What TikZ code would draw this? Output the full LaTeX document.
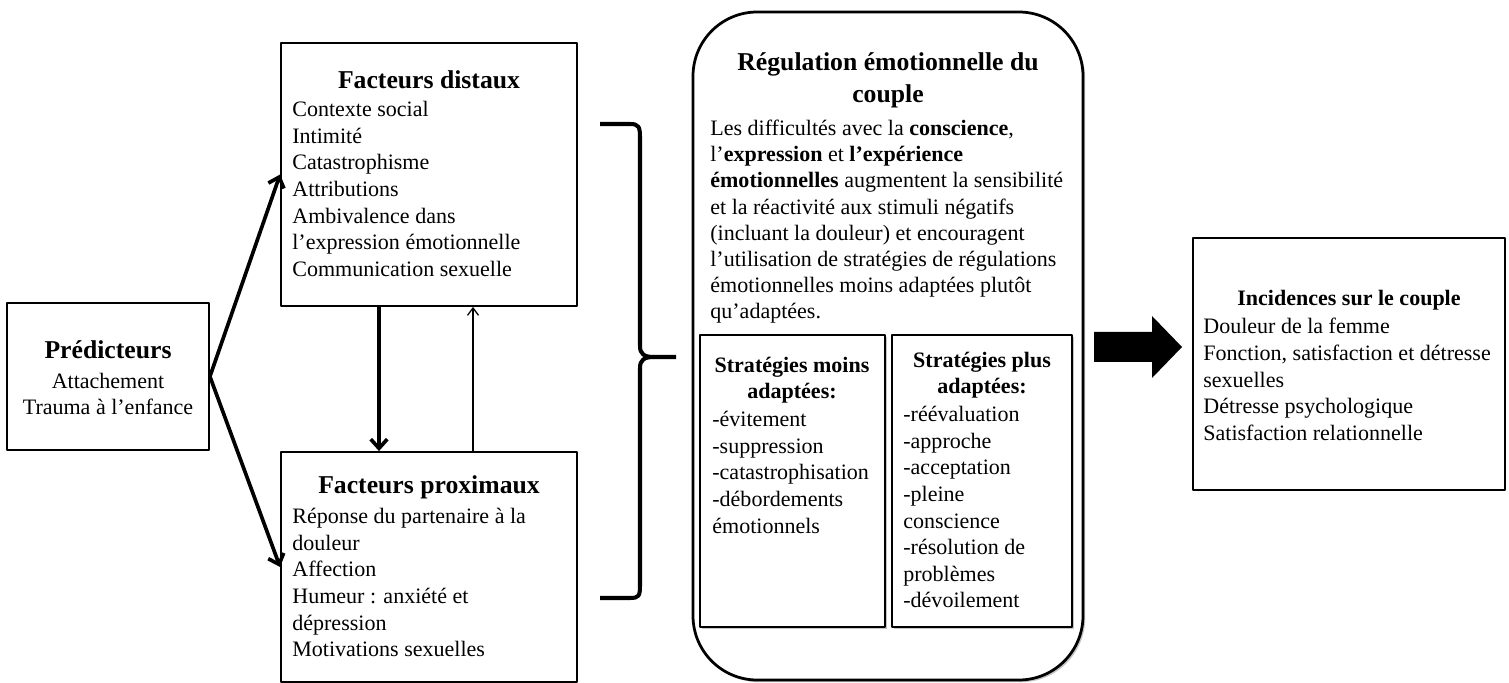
\documentclass[tikz,border=0pt]{standalone}
\usepackage{fontspec}
\setmainfont{Liberation Serif}
\usetikzlibrary{arrows.meta,shadows,fit,calc}

\begin{document}
\begin{tikzpicture}[x=0.545pt,y=-0.545pt,font=\fontsize{12}{14.5}\selectfont,line join=round]
	\tikzset{boite/.style={draw,line width=1pt,inner sep=0pt},
		ombre/.style={drop shadow={shadow xshift=1.2pt,shadow yshift=-1.2pt,fill=black!45}},
		titre/.style={font=\fontsize{14}{17.5}\selectfont\bfseries,align=center,inner sep=0pt},
		stitre/.style={font=\fontsize{12}{14.5}\selectfont\bfseries,align=center,inner sep=0pt},
		liste/.style={align=left,inner sep=0pt,anchor=north west},
		fleche/.style={-{Straight Barb[length=5pt,width=9pt]},line width=2pt}}
	\useasboundingbox (0,0) rectangle (1509,683);
	% boites de gauche
	\node[boite,fit={(7,303) (209,450)}] (pred) {};
	\node[titre] (predT) at (108,350) {Prédicteurs};
	\node[align=center,inner sep=0pt] (predL) at (108,394) {Attachement\\Trauma à l’enfance};
	\node[boite,fit={(281,43) (577,306)}] (dist) {};
	\node[titre] (distT) at (429,80) {Facteurs distaux};
	\node[liste] (distL) at (292,101) {Contexte social\\Intimité\\Catastrophisme\\Attributions\\Ambivalence dans\\l’expression émotionnelle\\Communication sexuelle};
	\node[boite,fit={(281,452) (577,682)}] (prox) {};
	\node[titre] (proxT) at (429,487) {Facteurs proximaux};
	\node[liste] (proxL) at (292,508) {Réponse du partenaire à la\\douleur\\Affection\\Humeur : anxiété et\\dépression\\Motivations sexuelles};
	% regulation
	\node[boite,line width=1.5pt,rounded corners=35pt,fill=white,ombre,fit={(693,12) (1083,680)}] (regul) {};
	\node[titre] (regulT) at (888,80) {Régulation émotionnelle du\\couple};
	\node[liste,font=\fontsize{12}{14.2}\selectfont] (regulL) at (710,120) {Les difficultés avec la \textbf{conscience},\\l’\textbf{expression} et \textbf{l’expérience}\\\textbf{émotionnelles} augmentent la sensibilité\\et la réactivité aux stimuli négatifs\\(incluant la douleur) et encouragent\\l’utilisation de stratégies de régulations\\émotionnelles moins adaptées plutôt\\qu’adaptées.};
	\node[boite,line width=0.7pt,fill=white,ombre,fit={(700,335) (885,627)}] (moins) {};
	\node[stitre] (moinsT) at (792,380) {Stratégies moins\\adaptées:};
	\node[liste] (moinsL) at (712,411) {-évitement\\-suppression\\-catastrophisation\\-débordements\\émotionnels};
	\node[boite,line width=0.7pt,fill=white,ombre,fit={(892,335) (1072,627)}] (plus) {};
	\node[stitre] (plusT) at (982,375) {Stratégies plus\\adaptées:};
	\node[liste] (plusL) at (903,406) {-réévaluation\\-approche\\-acceptation\\-pleine\\conscience\\-résolution de\\problèmes\\-dévoilement};
	% incidences
	\node[boite,fit={(1193,238) (1505,490)}] (incid) {};
	\node[stitre] (incidT) at (1349,300) {Incidences sur le couple};
	\node[liste] (incidL) at (1203,318) {Douleur de la femme\\Fonction, satisfaction et détresse\\sexuelles\\Détresse psychologique\\Satisfaction relationnelle};
	% fleches
	\draw[fleche] (pred.east) -- (dist.west);
	\draw[fleche] (pred.east) -- (prox.west);
	\draw[fleche] ($(dist.south)+(-50,0)$) -- ($(prox.north)+(-50,0)$);
	\draw[-{Straight Barb[length=4pt,width=6pt]},line width=0.7pt] ($(prox.north)+(44,0)$) -- ($(dist.south)+(44,0)$);
	% accolade
	\draw[line width=2.2pt] (600,124) -- (630,124) .. controls (639,124) and (640,127) .. (640,138) -- (640,346) .. controls (640,354) and (644,357) .. (654,357) -- (676,357);
	\draw[line width=2.2pt] (654,357) .. controls (644,357) and (640,360) .. (640,368) -- (640,585) .. controls (640,596) and (639,598) .. (630,598) -- (600,598);
	% grosse fleche
	\fill (1094,332) -- (1152,332) -- (1152,316) -- (1182,347) -- (1152,378) -- (1152,362) -- (1094,362) -- cycle;
\end{tikzpicture}
\end{document}
